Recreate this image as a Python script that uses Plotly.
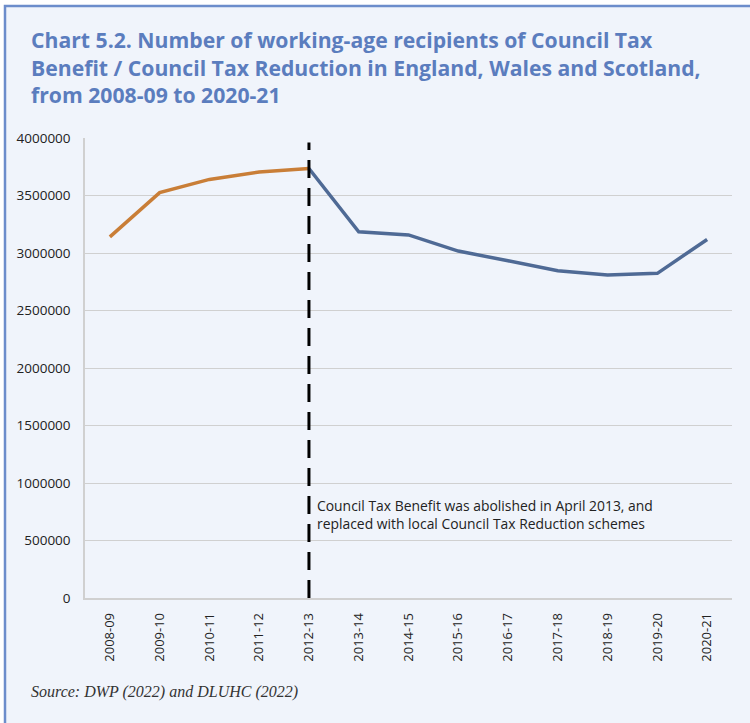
import plotly.graph_objects as go

# Financial years on the category axis
years = ["2008-09", "2009-10", "2010-11", "2011-12", "2012-13", "2013-14", "2014-15",
         "2015-16", "2016-17", "2017-18", "2018-19", "2019-20", "2020-21"]

# Council Tax Benefit era (to 2012-13)
ctb_years = years[:5]
ctb_recipients = [3140000, 3525000, 3640000, 3705000, 3735000]

# Council Tax Reduction era (from 2012-13)
ctr_years = years[4:]
ctr_recipients = [3735000, 3185000, 3157000, 3017000, 2932000, 2846000, 2809000, 2823000, 3118000]

# Policy-change marker
marker_year = "2012-13"
marker_span = [0, 3960000]

y_ticks = [0, 500000, 1000000, 1500000, 2000000, 2500000, 3000000, 3500000, 4000000]

W, H = 750, 723
L, R, T, B = 85, 18, 138, 125
pw, ph = W - L - R, H - T - B


def px(x):
    return (x - L) / pw


def py(y):
    return (H - B - y) / ph


BG = "#F0F4FB"
FRAME = "#6C8DCB"

fig = go.Figure()

fig.add_trace(go.Scatter(x=ctb_years, y=ctb_recipients, mode="lines",
                         line=dict(color="#C97E37", width=3.5), hoverinfo="skip"))
fig.add_trace(go.Scatter(x=ctr_years, y=ctr_recipients, mode="lines",
                         line=dict(color="#4F6A95", width=3.5), hoverinfo="skip"))
fig.add_trace(go.Scatter(x=[marker_year, marker_year], y=marker_span, mode="lines",
                         line=dict(color="#000000", width=3, dash="18px,10px"),
                         hoverinfo="skip"))

# Light panel with a blue frame on its left and top edges
fig.add_shape(type="rect", xref="paper", yref="paper",
              x0=px(5), x1=px(W + 20), y0=py(6), y1=py(H + 20),
              fillcolor=BG, line=dict(color=FRAME, width=2.5), layer="below")

fig.add_annotation(
    xref="paper", yref="paper", x=px(29), y=py(23), xanchor="left", yanchor="top",
    align="left", showarrow=False,
    text="<b>Chart 5.2. Number of working-age recipients of Council Tax<br>"
         "Benefit / Council Tax Reduction in England, Wales and Scotland,<br>"
         "from 2008-09 to 2020-21</b>",
    font=dict(family="Open Sans", size=21.2, color="#5B7DBE"))

fig.add_annotation(
    xref="paper", yref="paper", x=px(315), y=py(494), xanchor="left", yanchor="top",
    align="left", showarrow=False,
    text="Council Tax Benefit was abolished in April 2013, and<br>"
         "replaced with local Council Tax Reduction schemes",
    font=dict(family="Open Sans", size=13.9, color="#222222"))

fig.add_annotation(
    xref="paper", yref="paper", x=px(29), y=py(692), xanchor="left", yanchor="middle",
    align="left", showarrow=False,
    text="<i>Source: DWP (2022) and DLUHC (2022)</i>",
    font=dict(family="Liberation Serif", size=16, color="#333333"))

fig.update_layout(
    width=W, height=H,
    margin=dict(l=L, r=R, t=T, b=B),
    paper_bgcolor="#FFFFFF",
    plot_bgcolor="rgba(0,0,0,0)",
    showlegend=False,
    font=dict(family="Open Sans", color="#222222"),
    xaxis=dict(type="category", categoryorder="array", categoryarray=years,
               tickangle=-90, tickfont=dict(size=13), showgrid=False,
               showline=True, linecolor="#D0D0D0", linewidth=1.5,
               ticks="", ticklabelstandoff=8, range=[-0.5, 12.5]),
    yaxis=dict(range=[0, 4000000], tickvals=y_ticks,
               ticktext=[str(v) for v in y_ticks],
               tickfont=dict(size=13.5), showgrid=True, gridcolor="#D0D0D0",
               gridwidth=1.3, zeroline=False, showline=True, linecolor="#D0D0D0",
               linewidth=1.5, ticks="", ticklabelstandoff=10),
)

fig.write_html("out.html")
